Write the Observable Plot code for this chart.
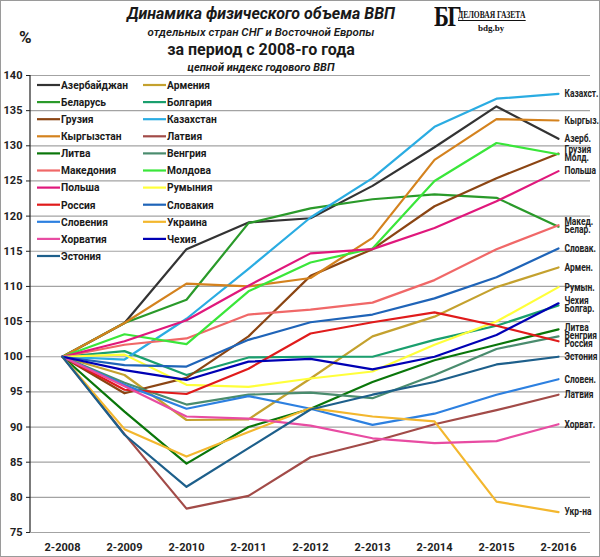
<!DOCTYPE html>
<html><head><meta charset="utf-8">
<script src="https://cdn.jsdelivr.net/npm/d3@7"></script>
<script src="https://cdn.jsdelivr.net/npm/@observablehq/plot@0.6"></script>
<style>
body{margin:0;background:#fff;}
#wrap{position:relative;width:600px;height:557px;overflow:hidden;font-family:Roboto,"Liberation Sans",sans-serif;}
#border{position:absolute;left:0;top:0;width:600px;height:557px;box-sizing:border-box;border:1px solid #9a9a9a;pointer-events:none;}
.t{position:absolute;left:0;width:522px;text-align:center;color:#1a1a1a;white-space:nowrap;}
#chart{position:absolute;left:0;top:0;}
</style></head>
<body><div id="wrap">
<div id="chart"></div>
<div class="t" style="top:4px;font:italic 700 16px Roboto,sans-serif;">Динамика физического объема ВВП</div>
<div class="t" style="top:25px;font:italic 600 11.5px Roboto,sans-serif;">отдельных стран СНГ и Восточной Европы</div>
<div class="t" style="top:40px;font:700 16px Roboto,sans-serif;">за период с 2008-го года</div>
<div class="t" style="top:61px;font:italic 700 11px Roboto,sans-serif;">цепной индекс годового ВВП</div>
<div style="position:absolute;left:19px;top:27px;font:700 17px Roboto,sans-serif;color:#1a1a1a;">%</div>
<div style="position:absolute;left:434px;top:-1px;font:700 30px 'Liberation Serif','DejaVu Serif',serif;color:#111;letter-spacing:-2px;transform:scaleX(0.75);transform-origin:left top;">БГ</div>
<div style="position:absolute;left:458px;top:9px;font:700 10.5px 'Liberation Serif','DejaVu Serif',serif;color:#111;transform:scaleX(0.72);transform-origin:left top;white-space:nowrap;border-bottom:1px solid #111;">ДЕЛОВАЯ ГАЗЕТА</div>
<div style="position:absolute;left:478px;top:23px;font:700 9px 'Liberation Serif','DejaVu Serif',serif;color:#111;">bdg.by</div>
<div id="border"></div>
</div>
<script>
const years = ["2-2008","2-2009","2-2010","2-2011","2-2012","2-2013","2-2014","2-2015","2-2016"];
const countries = ["Азербайджан","Армения","Беларусь","Болгария","Грузия","Казахстан","Кыргызстан","Латвия","Литва","Венгрия","Македония","Молдова","Польша","Румыния","Россия","Словакия","Словения","Украина","Хорватия","Чехия","Эстония"];
const endLabels = ["Азерб.","Армен.","Белар.","Болгар.","Грузия","Казахст.","Кыргыз.","Латвия","Литва","Венгрия","Макед.","Молд.","Польша","Румын.","Россия","Словак.","Словен.","Укр-на","Хорват.","Чехия","Эстония"];
const colors = ["#333333","#c4a12e","#2a9a2a","#1a9f6e","#8b4513","#2aace2","#d4821e","#a24b48","#0a760a","#4a8c6e","#f06868","#3ae63a","#e0187c","#ffff3a","#e01b1b","#1f64b8","#2d80e0","#f3b72e","#e84ca2","#0000b4","#1d5f8b"];

const azerbaijan = [100,104.8,115.3,119.1,119.7,124.3,129.8,135.6,131.0];
const armenia    = [100,97.4,91.0,91.1,96.9,102.9,105.7,109.9,112.7];
const belarus    = [100,104.8,108.1,119.0,121.1,122.4,123.1,122.6,118.5];
const bulgaria   = [100,100.8,97.4,99.9,100.0,100.0,102.4,104.4,107.3];
const georgia    = [100,94.8,97.0,102.9,111.5,115.3,121.4,125.4,128.9];
const kazakhstan = [100,99.6,105.4,112.5,119.8,125.4,132.7,136.7,137.4];
const kyrgyzstan = [100,104.8,110.4,110.0,111.2,116.9,128.0,133.8,133.6];
const latvia     = [100,89.0,78.4,80.2,85.7,87.9,90.4,92.4,94.6];
const lithuania  = [100,92.2,84.8,90.0,92.6,96.4,99.5,101.7,103.9];
const hungary    = [100,96.3,93.2,94.6,94.9,94.1,97.4,101.1,102.9];
const macedonia  = [100,101.7,102.6,106.0,106.7,107.7,110.9,115.3,118.7];
const moldova    = [100,103.2,101.8,109.3,113.4,115.4,125.0,130.4,128.8];
const poland     = [100,102.2,105.2,110.1,114.7,115.3,118.3,122.1,126.4];
const romania    = [100,100.3,96.0,95.7,96.9,97.9,101.7,105.0,109.9];
const russia     = [100,95.3,94.7,98.3,103.3,104.9,106.3,104.4,102.2];
const slovakia   = [100,98.8,98.6,102.4,104.9,106.0,108.3,111.3,115.4];
const slovenia   = [100,96.0,92.6,94.4,92.6,90.3,91.9,94.6,96.8];
const ukraine    = [100,89.7,85.8,89.3,92.7,91.5,90.8,79.4,77.9];
const croatia    = [100,95.8,91.5,91.2,90.2,88.4,87.7,88.0,90.4];
const czechia    = [100,98.1,96.7,99.3,99.7,98.2,100.0,103.1,107.6];
const estonia    = [100,88.9,81.5,87.0,92.5,94.6,96.4,98.9,100.0];

const yTicks = [75,80,85,90,95,100,105,110,115,120,125,130,135,140];

const series = [azerbaijan,armenia,belarus,bulgaria,georgia,kazakhstan,kyrgyzstan,latvia,lithuania,hungary,macedonia,moldova,poland,romania,russia,slovakia,slovenia,ukraine,croatia,czechia,estonia];

const data = countries.flatMap((c,i)=>series[i].map((v,j)=>({country:c, year:years[j], value:v})));

// end labels with simple vertical dodge (in data units)
const H = 557, mT = 75, mB = 25;
const pxPerUnit = (H - mT - mB) / (140 - 75);
const sep = 8.2 / pxPerUnit;
let ends = countries.map((c,i)=>({country:c, label:endLabels[i], year:years[years.length-1], value:series[i][series[i].length-1]}));
ends.sort((a,b)=>b.value-a.value);
ends.forEach(e=>e.ly=e.value);
for (let it=0; it<200; it++) {
  for (let k=1;k<ends.length;k++){
    const gap = ends[k-1].ly - ends[k].ly;
    if (gap < sep) { const d=(sep-gap)/2; ends[k-1].ly+=d; ends[k].ly-=d; }
  }
}

const chart = Plot.plot({
  width: 600, height: H,
  marginTop: mT, marginBottom: mB, marginLeft: 30, marginRight: 10,
  style: {fontFamily: "Roboto, 'Liberation Sans', sans-serif", fontSize: "11px", fontWeight: "bold", color: "#222", background: "transparent"},
  x: {type: "point", domain: years, padding: 0.5, tickSize: 0, tickPadding: 11, label: null},
  y: {domain: [75,140], ticks: yTicks, tickSize: 4, tickPadding: 4, label: null},
  color: {domain: countries, range: colors},
  marks: [
    Plot.ruleY(yTicks, {stroke: "#a3a3a3", strokeWidth: 1.2}),
    Plot.line(data, {x: "year", y: "value", z: "country", stroke: "country", strokeWidth: 2.2}),
    Plot.text(ends, {x: "year", y: "ly", text: "label", dx: 6, textAnchor: "start", fill: "#222", fontSize: 10.5, fontWeight: "bold", className: "endlab"})
  ]
});
document.getElementById("chart").appendChild(chart);

// condense text horizontally (reference uses a narrow font)
function condense(sel, k) {
  sel.each(function() {
    const w = this.getComputedTextLength();
    if (w > 0) { this.setAttribute("textLength", (w * k).toFixed(1)); this.setAttribute("lengthAdjust", "spacingAndGlyphs"); }
  });
}
const svg = d3.select(chart);
condense(svg.selectAll(".endlab text"), 0.8);

// y axis line and legend drawn on top, positioned with the chart's own scales
const sx = chart.scale("x"), sy = chart.scale("y");
svg.append("line").attr("x1", sx.range[0]).attr("x2", sx.range[0])
  .attr("y1", sy.apply(75)).attr("y2", sy.apply(140)).attr("stroke", "#222").attr("stroke-width", 1.2);

const lg = svg.append("g").attr("font-size", 11).attr("font-weight", "bold").attr("fill", "#1a1a1a").attr("text-anchor", "start");
countries.forEach((c,i)=>{
  const col = i % 2, row = Math.floor(i/2);
  const x0 = col ? 143 : 37, y0 = 85 + row * 17.1;
  lg.append("line").attr("x1", x0).attr("x2", x0+23).attr("y1", y0).attr("y2", y0)
    .attr("stroke", colors[i]).attr("stroke-width", 2.2);
  lg.append("text").attr("x", x0+24).attr("y", y0).attr("dy", "0.35em").attr("text-anchor", "start").text(c);
});
condense(lg.selectAll("text"), 0.93);
</script>
</body></html>
